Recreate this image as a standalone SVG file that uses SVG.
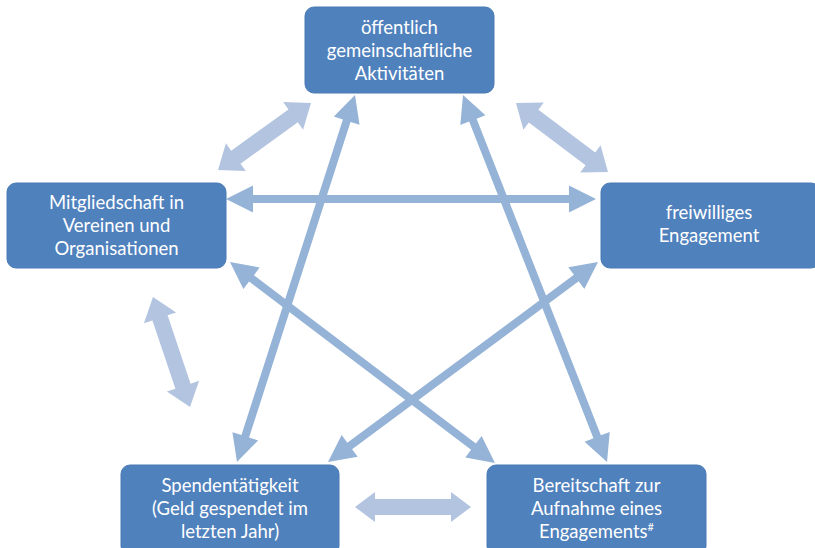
<svg xmlns="http://www.w3.org/2000/svg" width="815" height="548" viewBox="0 0 815 548">
<style>
.node{fill:#4F81BD;stroke:#4A7AB4;stroke-width:1}
.t{font-family:Lato,"Open Sans","Liberation Sans",sans-serif;font-size:18.5px;fill:#fff;text-anchor:middle}
.dk{fill:#95B3D7}
.lt{fill:#B3C4E0}
</style>
<rect width="815" height="548" fill="#fff"/>
<g id="connectors">
<path class="dk" transform="translate(237,462) rotate(-72.18)" d="M0,0 L27,-13.5 L27,-4 L358.5,-4 L358.5,-13.5 L385.5,0 L358.5,13.5 L358.5,4 L27,4 L27,13.5 Z"/>
<path class="dk" transform="translate(463,95) rotate(68.57)" d="M0,0 L27,-13.5 L27,-4 L367.2,-4 L367.2,-13.5 L394.2,0 L367.2,13.5 L367.2,4 L27,4 L27,13.5 Z"/>
<path class="dk" transform="translate(230,262) rotate(37.18)" d="M0,0 L27,-13.5 L27,-4 L305.6,-4 L305.6,-13.5 L332.6,0 L305.6,13.5 L305.6,4 L27,4 L27,13.5 Z"/>
<path class="dk" transform="translate(598,262) rotate(143.47)" d="M0,0 L27,-13.5 L27,-4 L309,-4 L309,-13.5 L336,0 L309,13.5 L309,4 L27,4 L27,13.5 Z"/>
<path class="dk" transform="translate(226,199)" d="M0,0 L27,-13.5 L27,-4 L343,-4 L343,-13.5 L370,0 L343,13.5 L343,4 L27,4 L27,13.5 Z"/>
<path class="lt" transform="translate(218,170) rotate(-35.77)" d="M0,0 L22,-17 L22,-8 L92.6,-8 L92.6,-17 L114.6,0 L92.6,17 L92.6,8 L22,8 L22,17 Z"/>
<path class="lt" transform="translate(516,103) rotate(36.87)" d="M0,0 L22,-17 L22,-8 L93,-8 L93,-17 L115,0 L93,17 L93,8 L22,8 L22,17 Z"/>
<path class="lt" transform="translate(153,297) rotate(71.41)" d="M0,0 L22,-17 L22,-8 L94.1,-8 L94.1,-17 L116.1,0 L94.1,17 L94.1,8 L22,8 L22,17 Z"/>
<path class="lt" transform="translate(355,507)" d="M0,0 L20,-15 L20,-8 L96,-8 L96,-15 L116,0 L96,15 L96,8 L20,8 L20,15 Z"/>
</g>
<g id="n-top">
<rect class="node" x="305" y="7" width="189" height="86" rx="9"/>
<text class="t" x="399.5" y="34">öffentlich</text>
<text class="t" x="399.5" y="57">gemeinschaftliche</text>
<text class="t" x="399.5" y="80">Aktivitäten</text>
</g>
<g id="n-left">
<rect class="node" x="7" y="183" width="219" height="85" rx="9"/>
<text class="t" x="116.5" y="209">Mitgliedschaft in</text>
<text class="t" x="116.5" y="232">Vereinen und</text>
<text class="t" x="116.5" y="255">Organisationen</text>
</g>
<g id="n-right">
<rect class="node" x="601" y="183" width="219" height="85" rx="9"/>
<text class="t" x="709" y="219">freiwilliges</text>
<text class="t" x="709" y="242">Engagement</text>
</g>
<g id="n-bl">
<rect class="node" x="121" y="465" width="218" height="90" rx="9"/>
<text class="t" x="230" y="492">Spendentätigkeit</text>
<text class="t" x="230" y="515">(Geld gespendet im</text>
<text class="t" x="230" y="538">letzten Jahr)</text>
</g>
<g id="n-br">
<rect class="node" x="487" y="465" width="219" height="90" rx="9"/>
<text class="t" x="596.5" y="492">Bereitschaft zur</text>
<text class="t" x="596.5" y="515">Aufnahme eines</text>
<text class="t" x="596.5" y="538">Engagements<tspan font-size="11" dy="-7">#</tspan></text>
</g>
</svg>
